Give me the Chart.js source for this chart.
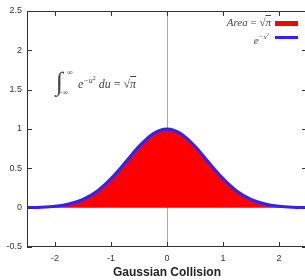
<!DOCTYPE html>
<html><head><meta charset="utf-8">
<script src="https://cdn.jsdelivr.net/npm/chart.js@4/dist/chart.umd.min.js"></script>
<style>
html,body{margin:0;padding:0;background:#fff;overflow:hidden;width:305px;height:280px;}
#wrap{position:absolute;left:0;top:0;width:308px;height:280px;}
.m{position:absolute;font-family:"Liberation Serif","DejaVu Serif",serif;font-style:italic;color:#444;white-space:nowrap;line-height:1;}
.r{font-style:normal;}
.sw{position:absolute;}
</style></head>
<body>
<div id="wrap"><canvas id="c" width="308" height="280"></canvas></div>
<!-- legend -->
<div class="m" style="right:34px;top:17px;font-size:11px;">Area <span class="r">=</span> <span class="r">√</span><span style="text-decoration:overline">π</span></div>
<div class="sw" style="left:275px;top:21px;width:23px;height:5px;background:#ff0000;"></div>
<div class="m" style="right:36px;top:32px;font-size:11px;">e<sup style="font-size:7px;vertical-align:5px">−x<span class="r" style="font-size:5px;vertical-align:3px">2</span></sup></div>
<div class="sw" style="left:275px;top:36px;width:23px;height:3px;background:#3320ff;"></div>
<!-- formula -->
<div class="m r" style="left:56px;top:69px;font-size:26px;font-weight:300;">∫</div>
<div class="m r" style="left:67px;top:69px;font-size:8px;">∞</div>
<div class="m r" style="left:58px;top:89px;font-size:8px;">−∞</div>
<div class="m" style="left:78px;top:75px;font-size:12px;">e<sup style="font-size:8px;vertical-align:5px">−u<span class="r" style="font-size:6px;vertical-align:3px">2</span></sup> du <span class="r">=</span> <span class="r">√</span><span style="text-decoration:overline">π</span></div>
<script>
const xValues = [-2.5,-2.25,-2,-1.75,-1.5,-1.25,-1,-0.75,-0.5,-0.25,0,0.25,0.5,0.75,1,1.25,1.5,1.75,2,2.25,2.5];
const yValues = [0.002,0.006,0.018,0.047,0.105,0.21,0.37,0.57,0.78,0.94,1,0.94,0.78,0.57,0.37,0.21,0.105,0.047,0.018,0.006,0.002];
const xTicks = [-2,-1,0,1,2];
const yTicks = [-0.5,0,0.5,1,1.5,2,2.5];
const xTitle = "Gaussian Collision";

const frame = {
  id:'frame',
  afterDraw(chart){
    const {ctx, chartArea:a, scales:{x,y}} = chart;
    ctx.save();
    ctx.strokeStyle='#333'; ctx.lineWidth=1;
    ctx.strokeRect(a.left+0.5,a.top+0.5,a.right-a.left-1,a.bottom-a.top-1);
    ctx.beginPath();
    x.ticks.forEach(t=>{const p=Math.round(x.getPixelForValue(t.value))+0.5;
      ctx.moveTo(p,a.bottom);ctx.lineTo(p,a.bottom-5);ctx.moveTo(p,a.top);ctx.lineTo(p,a.top+5);});
    y.ticks.forEach(t=>{const p=Math.round(y.getPixelForValue(t.value))+0.5;
      ctx.moveTo(a.left,p);ctx.lineTo(a.left+5,p);ctx.moveTo(a.right,p);ctx.lineTo(a.right-5,p);});
    ctx.stroke();
    ctx.restore();
  }
};

new Chart(document.getElementById('c'),{
  type:'line',
  data:{labels:xValues,datasets:[{
    data:xValues.map((v,i)=>({x:v,y:yValues[i]})),
    borderColor:'#3320ff',borderWidth:3,backgroundColor:'#ff0000',
    fill:'origin',pointRadius:0,cubicInterpolationMode:'monotone'
  }]},
  options:{
    responsive:false,animation:false,
    layout:{padding:{top:11,right:1,left:0,bottom:0}},
    plugins:{legend:{display:false},tooltip:{enabled:false}},
    scales:{
      x:{type:'linear',min:-2.5,max:2.5,
        afterBuildTicks(s){s.ticks=xTicks.map(v=>({value:v}));},
        afterFit(s){s.height=33;},
        border:{display:false},
        grid:{drawTicks:false,color:c=>c.tick&&c.tick.value===0?'#aaaaaa':'rgba(0,0,0,0)'},
        ticks:{padding:6,color:'#333',font:{family:'Liberation Sans',size:9},maxRotation:0,callback:v=>String(v)},
        title:{display:true,text:xTitle,color:'#222',font:{family:'Liberation Sans',size:12,weight:'bold'},padding:{top:3,bottom:0}}
      },
      y:{type:'linear',min:-0.5,max:2.5,
        afterBuildTicks(s){s.ticks=yTicks.map(v=>({value:v}));},
        afterFit(s){s.width=27;},
        border:{display:false},
        grid:{display:false,drawTicks:false},
        ticks:{padding:5,color:'#333',font:{family:'Liberation Sans',size:9},callback:v=>String(v)}
      }
    }
  },
  plugins:[frame]
});
</script>
</body></html>
